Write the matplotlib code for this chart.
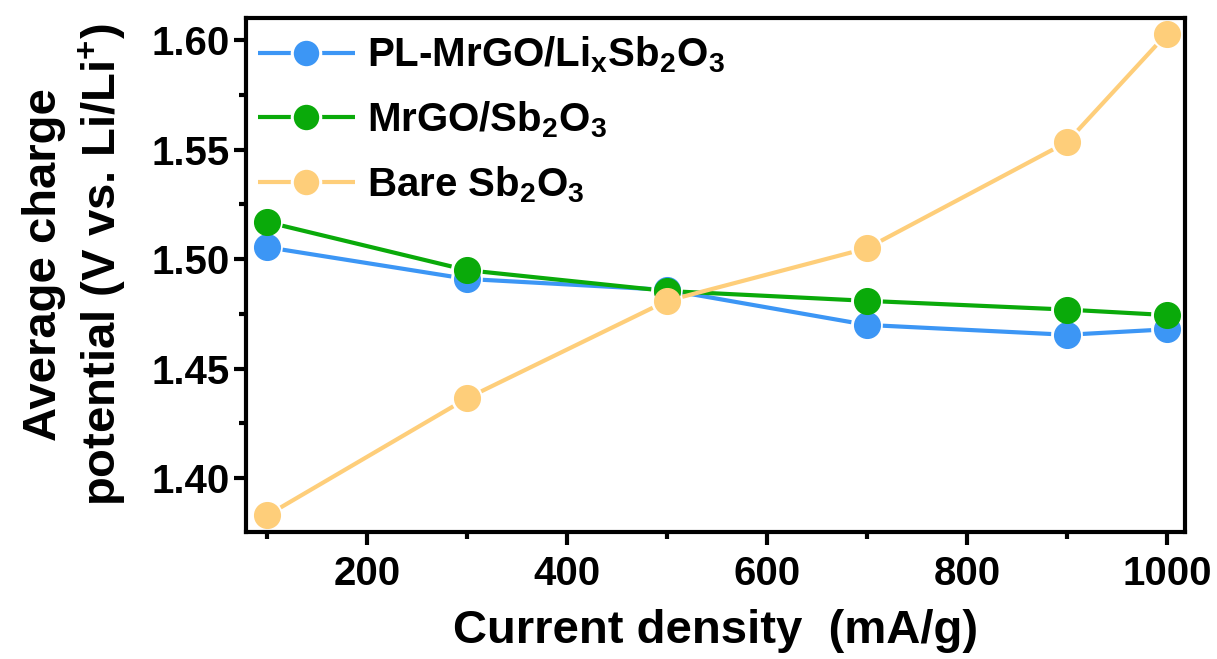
import matplotlib
matplotlib.use("Agg")
import matplotlib.pyplot as plt
import numpy as np
from matplotlib.lines import Line2D

current = [100, 300, 500, 700, 900, 1000]
pl_mrgo = [1.5055, 1.491, 1.486, 1.470, 1.4655, 1.468]
mrgo = [1.517, 1.495, 1.4855, 1.481, 1.477, 1.4745]
bare = [1.383, 1.4365, 1.481, 1.505, 1.5535, 1.603]

labels = [r"PL-MrGO/Li$_\mathbf{x}$Sb$_\mathbf{2}$O$_\mathbf{3}$",
          r"MrGO/Sb$_\mathbf{2}$O$_\mathbf{3}$",
          r"Bare Sb$_\mathbf{2}$O$_\mathbf{3}$"]
colors = ["#3c96f5", "#0aaa0a", "#fece7a"]

plt.rcParams["font.family"] = ["Liberation Sans", "DejaVu Sans"]
plt.rcParams["font.weight"] = "bold"
plt.rcParams["mathtext.fontset"] = "custom"
plt.rcParams["mathtext.rm"] = "Liberation Sans:bold"
plt.rcParams["mathtext.bf"] = "Liberation Sans:bold"
plt.rcParams["mathtext.it"] = "Liberation Sans:bold"
plt.rcParams["mathtext.default"] = "bf"

fig = plt.figure(figsize=(12.17, 6.59), dpi=100)
ax = fig.add_axes([0.2021, 0.1932, 0.7716, 0.779])

ax.set_xlim(79, 1018)
ax.set_ylim(1.3756, 1.61)

MS = 18.5
LW = 3
gap_px = MS * 100 / 72 / 2 + 3  # marker radius plus small gap, in pixels

handles = []
for i, (y, c, lab) in enumerate(zip([pl_mrgo, mrgo, bare], colors, labels)):
    pts = ax.transData.transform(np.column_stack([current, y]))
    inv = ax.transData.inverted()
    for a, b in zip(pts[:-1], pts[1:]):
        d = b - a
        L = np.hypot(*d)
        if L <= 2 * gap_px:
            continue
        u = d / L
        seg = inv.transform(np.vstack([a + u * gap_px, b - u * gap_px]))
        ax.plot(seg[:, 0], seg[:, 1], "-", color=c, lw=LW, zorder=2 + i,
                solid_capstyle="butt")
    ax.plot(current, y, "o", color=c, markersize=MS, zorder=2 + i,
            clip_on=False)
    h_line = Line2D([], [], color=c, lw=LW, solid_capstyle="butt")
    h_mark = Line2D([], [], ls="none", marker="o", markersize=MS + 2,
                    markerfacecolor=c, markeredgecolor="white",
                    markeredgewidth=2.2)
    handles.append((h_line, h_mark))

ax.set_xticks([200, 400, 600, 800, 1000])
ax.set_xticks([100, 300, 500, 700, 900], minor=True)
ax.set_yticks([1.40, 1.45, 1.50, 1.55, 1.60])
ax.set_yticks([1.425, 1.475, 1.525, 1.575], minor=True)
ax.set_yticklabels(["1.40", "1.45", "1.50", "1.55", "1.60"])

for s in ax.spines.values():
    s.set_linewidth(3)
ax.tick_params(which="major", direction="out", length=9, width=3,
               labelsize=29, pad=3)
ax.tick_params(axis="x", which="major", pad=8)
ax.tick_params(which="minor", direction="out", length=5, width=3)
ax.tick_params(top=False, right=False, which="both")
for t in ax.get_xticklabels() + ax.get_yticklabels():
    t.set_fontweight("bold")

ax.set_xlabel("Current density  (mA/g)", fontsize=34, fontweight="bold",
              labelpad=11)
ax.set_ylabel("Average charge\n" + r"potential (V vs. Li/Li$^\mathbf{+}$)",
              fontsize=34, fontweight="bold", multialignment="center",
              linespacing=1.25)
ax.yaxis.set_label_coords(-0.126, 0.52)

leg = ax.legend(handles=handles, labels=labels, loc="upper left",
                bbox_to_anchor=(0.0128, 0.968),
                frameon=False, fontsize=29, handlelength=2.4,
                handletextpad=0.3, borderpad=0, borderaxespad=0,
                labelspacing=0.6)

fig.savefig("out.png", dpi=100)
